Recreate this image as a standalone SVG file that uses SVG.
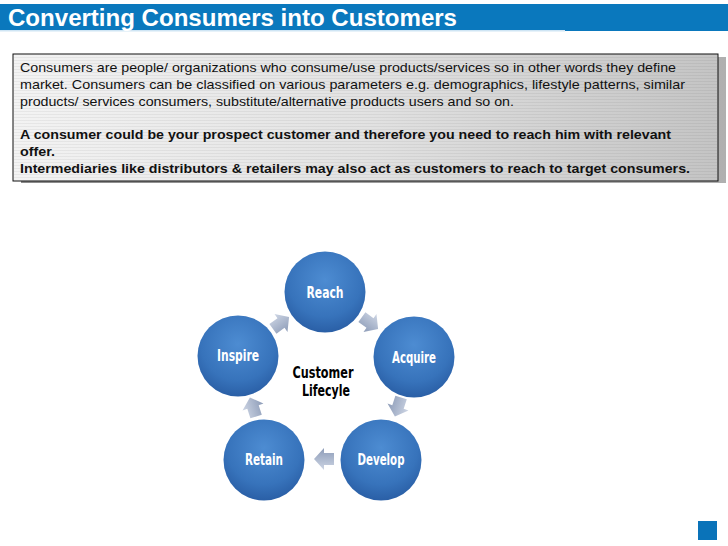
<svg xmlns="http://www.w3.org/2000/svg" width="728" height="546" viewBox="0 0 728 546">
  <defs>
    <linearGradient id="boxGrad" x1="0" y1="0" x2="1" y2="0">
      <stop offset="0" stop-color="#f3f3f3"/>
      <stop offset="0.5" stop-color="#e2e2e2"/>
      <stop offset="1" stop-color="#c4c4c4"/>
    </linearGradient>
    <linearGradient id="shadowGrad" x1="0" y1="0" x2="1" y2="0">
      <stop offset="0" stop-color="#8a8a8a"/>
      <stop offset="1" stop-color="#b0b0b0"/>
    </linearGradient>
    <pattern id="stripes" width="4" height="3" patternUnits="userSpaceOnUse">
      <rect width="4" height="1" fill="#000" fill-opacity="0.05"/>
    </pattern>
    <radialGradient id="circGrad" cx="0.5" cy="0.35" r="0.65">
      <stop offset="0" stop-color="#4d8cd2"/>
      <stop offset="0.7" stop-color="#3773bb"/>
      <stop offset="1" stop-color="#2a5fa6"/>
    </radialGradient>
    <linearGradient id="arrowGrad" x1="0" y1="0" x2="0" y2="1">
      <stop offset="0" stop-color="#cdd5e4"/>
      <stop offset="1" stop-color="#8d9cb8"/>
    </linearGradient>
    <polygon id="arrowShape" points="-10,-6 0,-6 0,-11 10,0 0,11 0,6 -10,6"/>
    <style>
      .title { font-family: "Liberation Sans", Arial, sans-serif; font-weight: bold; font-size: 23px; fill: #ffffff; }
      .body { font-family: "Liberation Sans", Arial, sans-serif; font-size: 13px; fill: #111111; }
      .bold { font-weight: bold; }
      .node circle { fill: url(#circGrad); }
      .node text { font-family: "DejaVu Sans Condensed", "DejaVu Sans", sans-serif; font-stretch: condensed; font-weight: bold; font-size: 15px; fill: #ffffff; text-anchor: middle; }
      .center { font-family: "DejaVu Sans Condensed", "DejaVu Sans", sans-serif; font-stretch: condensed; font-weight: bold; font-size: 15.5px; fill: #000000; text-anchor: middle; }
      .arrow { fill: url(#arrowGrad); }
    </style>
  </defs>

  <rect width="728" height="546" fill="#ffffff"/>

  <!-- title bar -->
  <g id="title">
    <rect x="0" y="4" width="728" height="27" fill="#0a78bd"/>
    <rect x="0" y="30" width="565" height="1.5" fill="#cfe5f4"/>
    <text class="title" x="8" y="25.5" textLength="449" lengthAdjust="spacingAndGlyphs">Converting Consumers into Customers</text>
  </g>

  <!-- text box -->
  <g id="textbox">
    <rect x="21" y="57" width="705" height="126" fill="url(#shadowGrad)"/>
    <rect x="13" y="54" width="705" height="127" fill="url(#boxGrad)" stroke="#111111" stroke-width="1"/>
    <rect x="14" y="55" width="703" height="125" fill="url(#stripes)"/>
    <text class="body" x="20" y="72" textLength="656" lengthAdjust="spacingAndGlyphs">Consumers are people/ organizations who consume/use products/services so in other words they define</text>
    <text class="body" x="20" y="89" textLength="665" lengthAdjust="spacingAndGlyphs">market. Consumers can be classified on various parameters  e.g. demographics, lifestyle patterns, similar</text>
    <text class="body" x="20" y="106" textLength="494" lengthAdjust="spacingAndGlyphs">products/ services consumers, substitute/alternative products users and so on.</text>
    <text class="body bold" x="20" y="139" textLength="651" lengthAdjust="spacingAndGlyphs">A consumer could be your prospect customer and therefore you need to reach him with relevant</text>
    <text class="body bold" x="20" y="156" textLength="35" lengthAdjust="spacingAndGlyphs">offer.</text>
    <text class="body bold" x="20" y="173" textLength="670" lengthAdjust="spacingAndGlyphs">Intermediaries like distributors &amp; retailers may also act as customers to reach to target consumers.</text>
  </g>

  <!-- connectors -->
  <g id="connectors">
    <use href="#arrowShape" class="arrow" transform="translate(370,323) rotate(36)"/>
    <use href="#arrowShape" class="arrow" transform="translate(398,407) rotate(108)"/>
    <use href="#arrowShape" class="arrow" transform="translate(324,459) rotate(180)"/>
    <use href="#arrowShape" class="arrow" transform="translate(253,407) rotate(252)"/>
    <use href="#arrowShape" class="arrow" transform="translate(281,323) rotate(324)"/>
  </g>

  <!-- nodes -->
  <g id="reach" class="node">
    <circle cx="325" cy="292" r="40.5"/>
    <text x="325" y="297.5" textLength="37" lengthAdjust="spacingAndGlyphs">Reach</text>
  </g>
  <g id="acquire" class="node">
    <circle cx="414" cy="357" r="40.5"/>
    <text x="414" y="362.5" textLength="44" lengthAdjust="spacingAndGlyphs">Acquire</text>
  </g>
  <g id="develop" class="node">
    <circle cx="381" cy="460" r="40.5"/>
    <text x="381" y="465" textLength="47" lengthAdjust="spacingAndGlyphs">Develop</text>
  </g>
  <g id="retain" class="node">
    <circle cx="264" cy="460" r="40.5"/>
    <text x="264" y="465" textLength="38" lengthAdjust="spacingAndGlyphs">Retain</text>
  </g>
  <g id="inspire" class="node">
    <circle cx="238" cy="356" r="40.5"/>
    <text x="238" y="361" textLength="42" lengthAdjust="spacingAndGlyphs">Inspire</text>
  </g>

  <g id="center-label">
    <text class="center" x="323" y="378" textLength="61" lengthAdjust="spacingAndGlyphs">Customer</text>
    <text class="center" x="326" y="396" textLength="48" lengthAdjust="spacingAndGlyphs">Lifecyle</text>
  </g>

  <!-- corner square -->
  <rect id="corner" x="698" y="521" width="19" height="19" fill="#0a73b9"/>
</svg>
